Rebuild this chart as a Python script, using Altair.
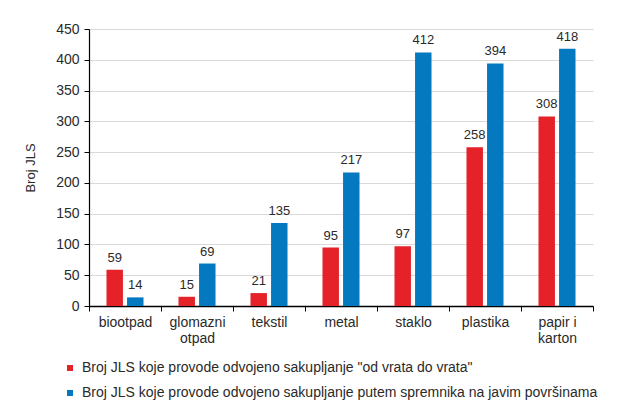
import altair as alt
import pandas as pd

categories = ["biootpad", "glomazni|otpad", "tekstil", "metal", "staklo", "plastika", "papir i|karton"]
door_to_door = [59, 15, 21, 95, 97, 258, 308]
containers = [14, 69, 135, 217, 412, 394, 418]
series = [
    "Broj JLS koje provode odvojeno sakupljanje \"od vrata do vrata\"",
    "Broj JLS koje provode odvojeno sakupljanje putem spremnika na javim površinama",
]
colors = ["#e42228", "#0479c0"]
y_ticks = [0, 50, 100, 150, 200, 250, 300, 350, 400, 450]

rows = []
for c, a, b in zip(categories, door_to_door, containers):
    rows.append({"cat": c, "series": series[0], "value": a})
    rows.append({"cat": c, "series": series[1], "value": b})
df = pd.DataFrame(rows)

FONT = "Liberation Sans"
TXT = "#2a2a2a"

x = alt.X(
    "cat:N",
    sort=categories,
    scale=alt.Scale(paddingInner=0, paddingOuter=0),
    axis=alt.Axis(
        title=None,
        labelExpr="split(datum.label, '|')",
        labelAngle=0,
        tickBand="extent",
        domainColor="#000000",
        domainWidth=1.5,
        tickColor="#000000",
        tickSize=5,
        labelFontSize=14,
        labelColor=TXT,
        labelPadding=4,
        labelLineHeight=16,
        grid=False,
    ),
)
xo = alt.XOffset("series:N", sort=series, scale=alt.Scale(paddingInner=0.2, paddingOuter=0.85))
y = alt.Y(
    "value:Q",
    scale=alt.Scale(domain=[0, 450], nice=False),
    axis=alt.Axis(
        title="Broj JLS",
        values=y_ticks,
        titleFontSize=13,
        titleFontWeight="normal",
        titleColor=TXT,
        titlePadding=18,
        labelFontSize=14,
        labelColor=TXT,
        labelPadding=5,
        domainColor="#000000",
        domainWidth=1.2,
        tickColor="#000000",
        tickSize=5,
        gridColor="#d9d9d9",
        gridWidth=1,
    ),
)
color = alt.Color(
    "series:N",
    sort=series,
    scale=alt.Scale(domain=series, range=colors),
    legend=alt.Legend(
        title=None,
        orient="none",
        legendX=-26,
        legendY=332,
        direction="vertical",
        symbolType="square",
        symbolSize=36,
        symbolStrokeWidth=0,
        labelFontSize=14,
        labelColor=TXT,
        labelOffset=5,
        rowPadding=11,
        labelLimit=700,
    ),
)

bars = alt.Chart(df).mark_bar().encode(x=x, xOffset=xo, y=y, color=color)
labels = alt.Chart(df).mark_text(
    baseline="alphabetic", dy=-8, fontSize=13, color=TXT, font=FONT
).encode(x=x, xOffset=xo, y=y, text="value:Q")

chart = (
    alt.layer(bars, labels)
    .properties(
        width=504,
        height=277,
        autosize=alt.AutoSizeParams(type="none"),
        padding={"left": 81, "top": 21, "right": 25, "bottom": 102},
        background="#ffffff",
    )
    .configure(font=FONT)
    .configure_view(stroke=None)
    .configure_axis(labelFont=FONT, titleFont=FONT)
    .configure_legend(labelFont=FONT)
)

chart.save("out.html", embed_options={"renderer": "svg", "actions": False})
